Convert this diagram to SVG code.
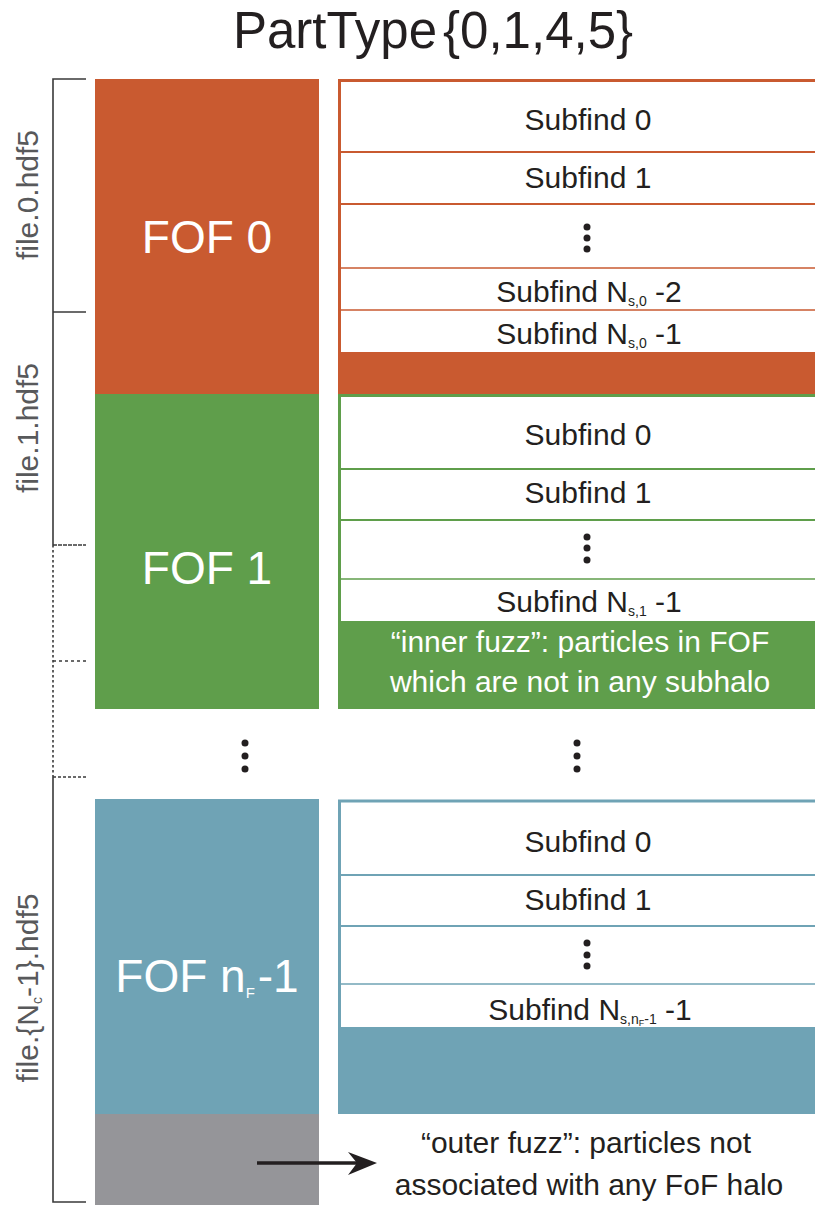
<svg xmlns="http://www.w3.org/2000/svg" width="815" height="1205" viewBox="0 0 815 1205">
<style>
text{font-family:"Liberation Sans",Arial,sans-serif}
.t{font-size:30px;fill:#231f20;text-anchor:middle}
.w{font-size:30px;fill:#ffffff;text-anchor:middle}
.fof{font-size:46px;fill:#ffffff;text-anchor:middle}
.file{font-size:30px;fill:#58595b;text-anchor:middle}
.sub{font-size:14px}
.br{stroke:#3a3a3a;stroke-width:1.6;fill:none}
.dot{fill:#231f20}
.lo{stroke:#c95a30}
.lg{stroke:#5f9e4b}
.lb{stroke:#6fa3b5}
</style>
<rect width="815" height="1205" fill="#ffffff"/>
<text x="433" y="48" style="font-size:51px;fill:#231f20;text-anchor:middle">PartType<tspan dx="6">{0,1,4,5}</tspan></text>

<g id="brackets">
<path class="br" d="M86,79 H53 V545"/>
<line class="br" x1="53" y1="312" x2="86" y2="312"/>
<line class="br" x1="53" y1="545" x2="86" y2="545" stroke-dasharray="4,1"/>
<line class="br" x1="53" y1="545" x2="53" y2="777" stroke-dasharray="2.5,2.5"/>
<line class="br" x1="53" y1="661" x2="86" y2="661" stroke-dasharray="3,3"/>
<line class="br" x1="53" y1="777" x2="86" y2="777" stroke-dasharray="3,2"/>
<path class="br" d="M53,777 V1202 H86"/>
<text class="file" transform="translate(38,195) rotate(-90)">file.0.hdf5</text>
<text class="file" transform="translate(38,428) rotate(-90)">file.1.hdf5</text>
<text class="file" transform="translate(38,988) rotate(-90)">file.{N<tspan class="sub" baseline-shift="-4">c</tspan>-1}.hdf5</text>
</g>

<g id="fof0">
<rect x="95" y="79" width="224" height="315" fill="#c95a30"/>
<text class="fof" x="207" y="253">FOF 0</text>
</g>
<g id="subfind0">
<rect x="339.5" y="80.5" width="480" height="275" fill="#ffffff" stroke="#c95a30" stroke-width="3"/>
<line class="lo" x1="338" y1="152" x2="815" y2="152" stroke-width="2"/>
<line class="lo" x1="338" y1="204" x2="815" y2="204" stroke-width="2"/>
<line class="lo" x1="338" y1="268" x2="815" y2="268" stroke-width="1.5"/>
<line class="lo" x1="338" y1="310" x2="815" y2="310" stroke-width="1.5"/>
<rect x="338" y="352" width="477" height="42" fill="#c95a30"/>
<text class="t" x="588" y="130">Subfind 0</text>
<text class="t" x="588" y="188">Subfind 1</text>
<circle class="dot" cx="587" cy="227" r="3.5"/>
<circle class="dot" cx="587" cy="238" r="3.5"/>
<circle class="dot" cx="587" cy="249" r="3.5"/>
<text class="t" x="589" y="302">Subfind N<tspan class="sub" baseline-shift="-4">s,0</tspan> -2</text>
<text class="t" x="589" y="344">Subfind N<tspan class="sub" baseline-shift="-4">s,0</tspan> -1</text>
</g>

<g id="fof1">
<rect x="95" y="394" width="224" height="315" fill="#5f9e4b"/>
<text class="fof" x="207" y="584">FOF 1</text>
</g>
<g id="subfind1">
<rect x="339.5" y="395.5" width="480" height="230" fill="#ffffff" stroke="#5f9e4b" stroke-width="3"/>
<line class="lg" x1="338" y1="469" x2="815" y2="469" stroke-width="2"/>
<line class="lg" x1="338" y1="520" x2="815" y2="520" stroke-width="2"/>
<line class="lg" x1="338" y1="579" x2="815" y2="579" stroke-width="1.5"/>
<rect x="338" y="621" width="477" height="88" fill="#5f9e4b"/>
<text class="t" x="588" y="445">Subfind 0</text>
<text class="t" x="588" y="503">Subfind 1</text>
<circle class="dot" cx="587" cy="537" r="3.5"/>
<circle class="dot" cx="587" cy="548" r="3.5"/>
<circle class="dot" cx="587" cy="560" r="3.5"/>
<text class="t" x="589" y="612">Subfind N<tspan class="sub" baseline-shift="-4">s,1</tspan> -1</text>
<text class="w" x="580" y="652">“inner fuzz”: particles in FOF</text>
<text class="w" x="580" y="692">which are not in any subhalo</text>
</g>

<g id="ellipsis">
<circle class="dot" cx="245" cy="743" r="3.5"/>
<circle class="dot" cx="245" cy="756" r="3.5"/>
<circle class="dot" cx="245" cy="769" r="3.5"/>
<circle class="dot" cx="577" cy="743" r="3.5"/>
<circle class="dot" cx="577" cy="756" r="3.5"/>
<circle class="dot" cx="577" cy="769" r="3.5"/>
</g>

<g id="fofn">
<rect x="95" y="799" width="224" height="315" fill="#6fa3b5"/>
<text class="fof" x="207" y="992">FOF n<tspan style="font-size:15px" baseline-shift="-6">F</tspan><tspan dx="3">-1</tspan></text>
</g>
<g id="subfindn">
<rect x="339.5" y="801" width="480" height="230" fill="#ffffff" stroke="#6fa3b5" stroke-width="3"/>
<line class="lb" x1="338" y1="875" x2="815" y2="875" stroke-width="2"/>
<line class="lb" x1="338" y1="926" x2="815" y2="926" stroke-width="2"/>
<line class="lb" x1="338" y1="984" x2="815" y2="984" stroke-width="1.5"/>
<rect x="338" y="1027" width="477" height="87" fill="#6fa3b5"/>
<text class="t" x="588" y="852">Subfind 0</text>
<text class="t" x="588" y="910">Subfind 1</text>
<circle class="dot" cx="587" cy="943" r="3.5"/>
<circle class="dot" cx="587" cy="955" r="3.5"/>
<circle class="dot" cx="587" cy="966" r="3.5"/>
<text class="t" x="590" y="1020">Subfind N<tspan class="sub" baseline-shift="-4">s,n<tspan style="font-size:9px" baseline-shift="-2">F</tspan>-1</tspan> -1</text>
</g>

<g id="outerfuzz">
<rect x="95" y="1114" width="224" height="91" fill="#959599"/>
<text class="t" x="586" y="1153">“outer fuzz”: particles not</text>
<text class="t" x="589" y="1195">associated with any FoF halo</text>
</g>

<g id="connectors">
<line x1="257" y1="1163" x2="358" y2="1163" stroke="#231f20" stroke-width="3.5"/>
<path d="M377,1163 L348,1152 L357,1163 L348,1175 Z" fill="#231f20"/>
</g>
</svg>
